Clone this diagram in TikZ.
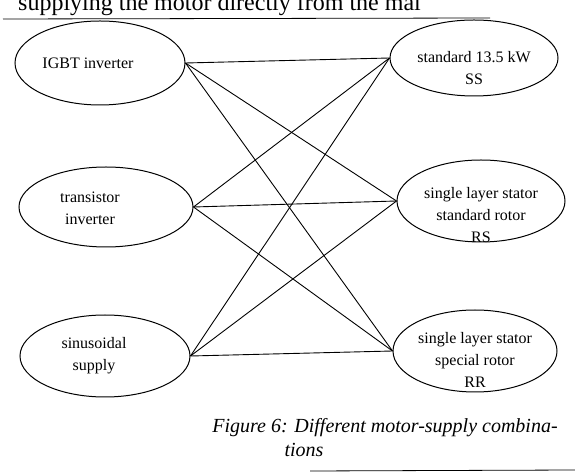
\documentclass[tikz,border=0pt]{standalone}
\usepackage{fontspec}
\setmainfont{Liberation Serif}
\usetikzlibrary{shapes.geometric}
\begin{document}
\begin{tikzpicture}[x=1pt,y=1pt,
  ell/.style={draw,ellipse,line width=1pt,inner sep=0pt},
  txt/.style={align=center,font=\fontsize{16}{22}\selectfont},
  conn/.style={line width=0.9pt}]
\useasboundingbox (0,0) rectangle (575,476);
% scan remnants
\node[anchor=base west,font=\fontsize{24}{26}\selectfont,inner sep=0pt] (top) at (18,465) {supplying the motor directly from the mai};
\draw[line width=0.8pt] (3,457) -- (490,458);
\draw[line width=0.8pt] (310,5) -- (575,6);
% left nodes
\node[ell,minimum width=170,minimum height=84] (igbt) at (100,413) {};
\node[txt] at (88,413) {IGBT inverter};
\node[ell,minimum width=174,minimum height=80] (trans) at (106,269) {};
\node[txt] at (90,268) {transistor\\inverter};
\node[ell,minimum width=170,minimum height=82] (sinus) at (105,120) {};
\node[txt] at (94,120) {sinusoidal\\supply};
% right nodes
\node[ell,minimum width=168,minimum height=76] (ss) at (474,418) {};
\node[txt] at (474,408) {standard 13.5 kW\\SS};
\node[ell,minimum width=168,minimum height=82] (rs) at (481,275) {};
\node[txt] at (481,261) {single layer stator\\standard rotor\\RS};
\node[ell,minimum width=164,minimum height=82] (rr) at (475,125) {};
\node[txt] at (475,116) {single layer stator\\special rotor\\RR};
% connectors
\foreach \a in {igbt,trans,sinus}
  \foreach \b in {ss,rs,rr}
    \draw[conn] (\a.east) -- (\b.west);
% caption
\node[anchor=base,font=\fontsize{20}{22}\itshape] (cap1) at (385,43) {Figure 6: Different motor-supply combina-};
\node[anchor=base,font=\fontsize{20}{22}\itshape] (cap2) at (304,19) {tions};
\end{tikzpicture}
\end{document}
